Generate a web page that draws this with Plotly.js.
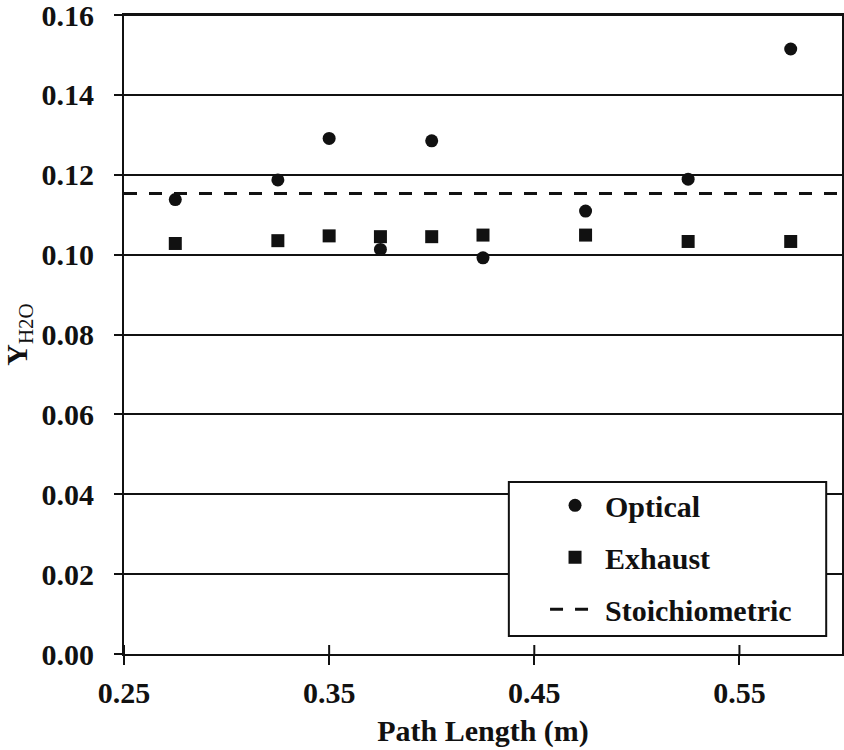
<!DOCTYPE html>
<html>
<head>
<meta charset="utf-8">
<script src="https://cdn.plot.ly/plotly-3.0.1.min.js"></script>
<style>
  html, body { margin: 0; padding: 0; background: #ffffff; }
  #chart { width: 844px; height: 750px; }
</style>
</head>
<body>
<div id="chart"></div>
<script>
// Water mass fraction versus optical path length
const pathLength = [0.275, 0.325, 0.35, 0.375, 0.40, 0.425, 0.475, 0.525, 0.575];
const opticalYH2O = [0.1138, 0.1187, 0.1291, 0.1013, 0.1285, 0.0992, 0.1109, 0.1189, 0.1515];
const exhaustYH2O = [0.1028, 0.1035, 0.1047, 0.1045, 0.1045, 0.1049, 0.1049, 0.1033, 0.1033];
const stoichX = [0.25, 0.60];
const stoichYH2O = [0.1153, 0.1153];
const xTicks = [0.25, 0.35, 0.45, 0.55];
const xTickText = ['0.25', '0.35', '0.45', '0.55'];
const yTicks = [0, 0.02, 0.04, 0.06, 0.08, 0.10, 0.12, 0.14, 0.16];
const yTickText = ['0.00', '0.02', '0.04', '0.06', '0.08', '0.10', '0.12', '0.14', '0.16'];
const seriesNames = ['Optical', 'Exhaust', 'Stoichiometric'];

const serif = 'Liberation Serif';
const ink = '#111111';
const bold = s => '<b>' + s + '</b>';
const textFont = { family: serif, size: 30, color: ink };

const traces = [
  {
    x: pathLength, y: opticalYH2O, type: 'scatter', mode: 'markers', name: bold(seriesNames[0]),
    legendgroup: 'a',
    marker: { symbol: 'circle', size: 13, color: ink }
  },
  {
    x: pathLength, y: exhaustYH2O, type: 'scatter', mode: 'markers', name: bold(seriesNames[1]),
    legendgroup: 'b',
    marker: { symbol: 'square', size: 13, color: ink }
  },
  {
    x: stoichX, y: stoichYH2O, type: 'scatter', mode: 'lines', name: bold(seriesNames[2]),
    legendgroup: 'c',
    line: { color: ink, width: 3, dash: '13px,12px' }
  }
];

// x ticks cross the axis line: the outer half comes from the axis,
// the inner half is drawn as short segments at the same tick values
const innerTickLen = 9 / 639;
const innerTicks = xTicks.map(v => ({
  type: 'line', xref: 'x', yref: 'paper', x0: v, x1: v, y0: 0, y1: innerTickLen,
  line: { color: ink, width: 2 }, layer: 'above'
}));

// legend frame
const legendFrame = {
  type: 'rect', xref: 'paper', yref: 'paper',
  x0: 0.536, x1: 0.978, y0: 0.028, y1: 0.269,
  line: { color: ink, width: 2 }, fillcolor: '#ffffff', layer: 'above'
};

// top frame edge of the plotting area
const topEdge = {
  type: 'line', xref: 'paper', yref: 'paper', x0: 0, x1: 1, y0: 1, y1: 1,
  line: { color: ink, width: 2 }, layer: 'above'
};

const layout = {
  width: 844, height: 750,
  paper_bgcolor: '#ffffff', plot_bgcolor: '#ffffff',
  margin: { l: 124, r: 2, t: 15, b: 96 },
  font: textFont,
  showlegend: true,
  legend: {
    x: 0.5864, y: 0.2734, xanchor: 'left', yanchor: 'top',
    bgcolor: 'rgba(0,0,0,0)', borderwidth: 0,
    font: textFont,
    itemwidth: 50,
    traceorder: 'grouped', tracegroupgap: 10
  },
  shapes: [legendFrame, topEdge].concat(innerTicks),
  xaxis: {
    range: [0.25, 0.60], tickvals: xTicks, ticktext: xTickText.map(bold),
    showgrid: false, zeroline: false,
    showline: true, linecolor: ink, linewidth: 2, mirror: true,
    ticks: 'outside', ticklen: 9, tickwidth: 2, tickcolor: ink,
    tickfont: textFont, ticklabeloverflow: 'allow',
    ticklabelstandoff: 2,
    title: { text: bold('Path Length (m)'), standoff: 12, font: textFont }
  },
  yaxis: {
    range: [0, 0.16001], tickvals: yTicks, ticktext: yTickText.map(bold),
    showgrid: true, gridcolor: ink, gridwidth: 2,
    zeroline: false,
    showline: true, linecolor: ink, linewidth: 2, mirror: true,
    ticks: 'outside', ticklen: 8, tickwidth: 2, tickcolor: ink,
    tickfont: textFont, ticklabeloverflow: 'allow',
    ticklabelstandoff: 14,
    title: { text: bold('Y') + '<sub>H2O</sub>', standoff: 8, font: textFont }
  }
};

Plotly.newPlot('chart', traces, layout, { displayModeBar: false, staticPlot: true });
</script>
</body>
</html>
